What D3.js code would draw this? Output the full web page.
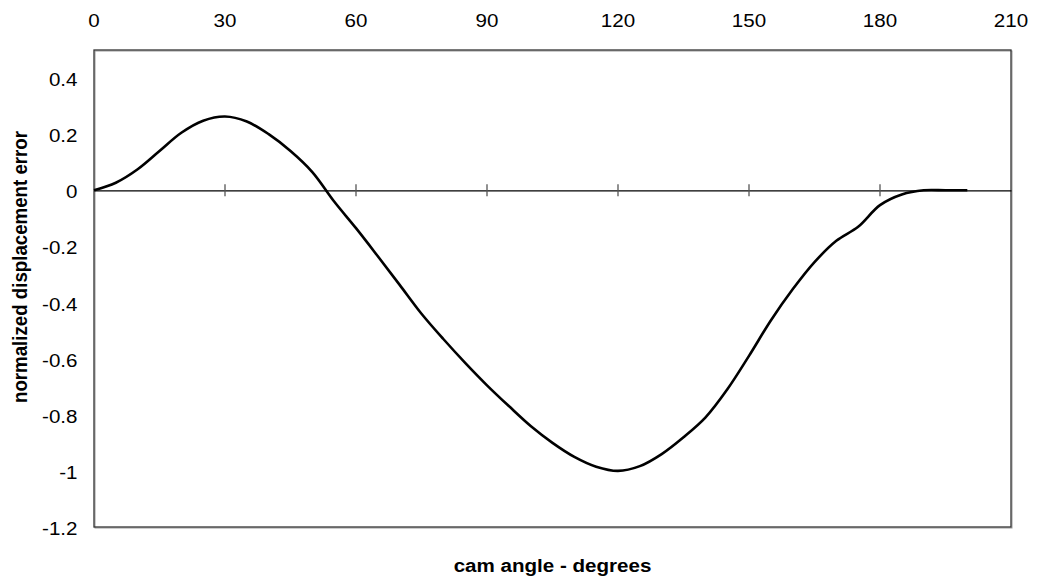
<!DOCTYPE html>
<html>
<head>
<meta charset="utf-8">
<script src="https://cdn.jsdelivr.net/npm/d3@7"></script>
<style>
  body { margin: 0; background: #fff; }
  text { font-family: "Liberation Sans", Arial, sans-serif; }
</style>
</head>
<body>
<div id="chart"></div>
<script>
// cam angle (degrees) and normalized displacement error
const angles = [0, 5, 10, 15, 20, 25, 30, 35, 40, 45, 50, 55, 60, 65, 70, 75, 80, 85, 90, 95,
                100, 105, 110, 115, 120, 125, 130, 135, 140, 145, 150, 155, 160, 165, 170, 175,
                180, 185, 190, 195, 200];
const errors = [0, 0.027, 0.075, 0.14, 0.205, 0.248, 0.263, 0.245, 0.2, 0.14, 0.065, -0.04,
                -0.135, -0.235, -0.337, -0.44, -0.53, -0.615, -0.695, -0.769,
                -0.84, -0.9, -0.95, -0.985, -1.0, -0.983, -0.94, -0.88, -0.81, -0.71,
                -0.59, -0.464, -0.353, -0.256, -0.18, -0.13, -0.053, -0.015, 0, 0, 0];
const xTicks = [0, 30, 60, 90, 120, 150, 180, 210];
const yTicks = [0.4, 0.2, 0, -0.2, -0.4, -0.6, -0.8, -1, -1.2];

let width = 1037, height = 582;
let plotLeft = 94, plotRight = 1011, plotTop = 50, plotBottom = 527;
let fontSize = "18.7px";
let stretch = 1.1;

let svg = d3.select("#chart").append("svg")
            .attr("width", width)
            .attr("height", height);

let x = d3.scaleLinear().domain([0, 210]).range([plotLeft, plotRight]);
let y = d3.scaleLinear().domain([-1.2, 0.5]).range([plotBottom, plotTop]);

// plot frame
svg.append("rect")
    .attr("x", plotLeft + 1).attr("y", plotTop + 1)
    .attr("width", plotRight - plotLeft).attr("height", plotBottom - plotTop)
    .attr("fill", "none").attr("stroke", "#999").attr("stroke-width", 1);
svg.append("rect")
    .attr("x", plotLeft).attr("y", plotTop)
    .attr("width", plotRight - plotLeft).attr("height", plotBottom - plotTop)
    .attr("fill", "none").attr("stroke", "#333").attr("stroke-width", 1.3);

// x axis along zero line, labels on top
let xAxis = svg.append("g")
    .attr("transform", "translate(0," + y(0) + ")")
    .call(d3.axisBottom(x).tickValues(xTicks).tickSize(0).tickFormat(""));
xAxis.select(".domain").attr("stroke", "#000").attr("stroke-width", 1.3);

svg.append("g").selectAll("line")
    .data(xTicks.slice(1, -1))
    .join("line")
    .attr("x1", d => x(d)).attr("x2", d => x(d))
    .attr("y1", y(0) - 6).attr("y2", y(0) + 6)
    .attr("stroke", "#555").attr("stroke-width", 1.3);

svg.append("g").selectAll("text")
    .data(xTicks)
    .join("text")
    .attr("transform", d => "translate(" + x(d) + ",26.7) scale(" + stretch + ",1)")
    .attr("text-anchor", "middle")
    .style("font-size", fontSize)
    .text(d => d);

svg.append("g").selectAll("text")
    .data(yTicks)
    .join("text")
    .attr("transform", d => "translate(77.5," + (y(d) + 8) + ") scale(" + stretch + ",1)")
    .attr("text-anchor", "end")
    .style("font-size", fontSize)
    .text(d => String(d));

// curve
let points = angles.map((a, i) => [a, errors[i]]);
let line = d3.line()
    .x(d => x(d[0]))
    .y(d => y(d[1]))
    .curve(d3.curveCatmullRom.alpha(0.5));

svg.append("path")
    .datum(points)
    .attr("d", line)
    .attr("fill", "none")
    .attr("stroke", "#000")
    .attr("stroke-width", 2.6);

// axis titles
svg.append("text")
    .attr("transform", "translate(" + ((plotLeft + plotRight) / 2) + ",571.5) scale(" + stretch + ",1)")
    .attr("text-anchor", "middle")
    .style("font-size", fontSize)
    .style("font-weight", "bold")
    .text("cam angle - degrees");

svg.append("text")
    .attr("transform", "translate(27,267) scale(" + stretch + ",1) rotate(-90)")
    .attr("text-anchor", "middle")
    .style("font-size", fontSize)
    .style("font-weight", "bold")
    .text("normalized displacement error");
</script>
</body>
</html>
